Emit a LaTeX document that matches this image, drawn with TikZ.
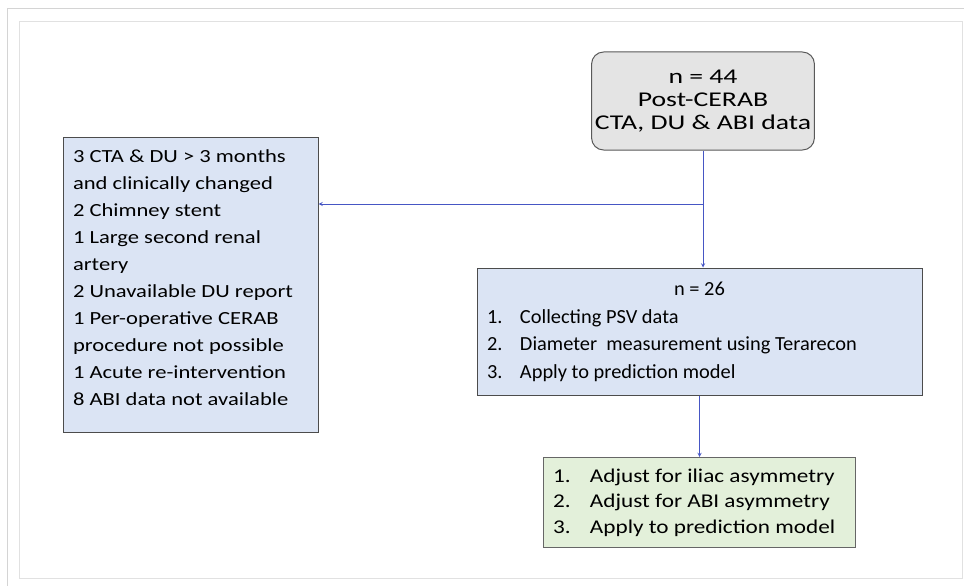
\documentclass[tikz,border=0pt]{standalone}
\usepackage{fontspec}
\setmainfont{Carlito}
\newfontfamily\topfont[FakeStretch=1.32]{Carlito}
\newfontfamily\leftfont[FakeStretch=1.22]{Carlito}
\newfontfamily\midfont[FakeStretch=1.02]{Carlito}
\newfontfamily\greenfont[FakeStretch=1.19]{Carlito}
\usepackage{array}
\usetikzlibrary{shapes.geometric, arrows}
\definecolor{boxgray}{RGB}{228,228,228}
\definecolor{boxblue}{RGB}{219,228,244}
\definecolor{boxgreen}{RGB}{227,240,218}
\definecolor{linkblue}{RGB}{70,86,196}
\definecolor{framegray}{RGB}{212,212,212}
\tikzstyle{source} = [rectangle, rounded corners=12pt, minimum width=220pt, minimum height=98pt, align=center, draw=black!65, fill=boxgray, line width=1pt, font=\topfont\fontsize{21}{23.3}\selectfont]
\tikzstyle{process} = [rectangle, draw=black!70, fill=boxblue, line width=1pt, inner sep=0pt]
\tikzstyle{outcome} = [rectangle, draw=black!60, fill=boxgreen, line width=1pt, inner sep=0pt, font=\greenfont\fontsize{19.5}{25.5}\selectfont]
\tikzstyle{arrow} = [linkblue, line width=0.9pt, ->, >=stealth]

\begin{document}
\begin{tikzpicture}[x=1pt, y=-1pt]

    \useasboundingbox (0,0) rectangle (964,586);
    % frame of the screenshot
    \draw [framegray] (7,586) -- (7,8) -- (964,8);
    \draw [framegray!70] (19,21) rectangle (962,578);

    \node (total) [source] at (703,101) {n = 44\\Post-CERAB\\CTA, DU \& ABI data};
    \node (excl) [process, minimum width=255pt, minimum height=295pt, text width=235pt, align=flush left, font=\leftfont\fontsize{18.5}{27}\selectfont] at (190.5,284.5)
        {3 CTA \& DU > 3 months\\and clinically changed\\2 Chimney stent\\1 Large second renal\\artery\\2 Unavailable DU report\\1 Per-operative CERAB\\procedure not possible\\1 Acute re-intervention\\8 ABI data not available\\[-13pt]\mbox{}};
    \node (meas) [process, minimum width=445pt, minimum height=127pt, font=\midfont\fontsize{20}{27.5}\selectfont] at (699.5,331.5)
        {\begin{tabular}{@{}p{33pt}@{}p{392pt}@{}}
        \multicolumn{2}{@{}c@{}}{n = 26}\\
        1. & Collecting PSV data\\
        2. & Diameter\ \ measurement using Terarecon\\
        3. & Apply to prediction model
        \end{tabular}};
    \node (adjust) [outcome, minimum width=312pt, minimum height=90pt] at (699,502.5)
        {\begin{tabular}{@{}p{37pt}@{}p{255pt}@{}}
        1. & Adjust for iliac asymmetry\\
        2. & Adjust for ABI asymmetry\\
        3. & Apply to prediction model
        \end{tabular}};

    \coordinate (split) at (703,204);
    \draw [arrow] (total.south) -- (total.south |- meas.north);
    \draw [arrow] (split) -- (split -| excl.east);
    \draw [arrow] (meas.south) -- (meas.south |- adjust.north);

\end{tikzpicture}
\end{document}
